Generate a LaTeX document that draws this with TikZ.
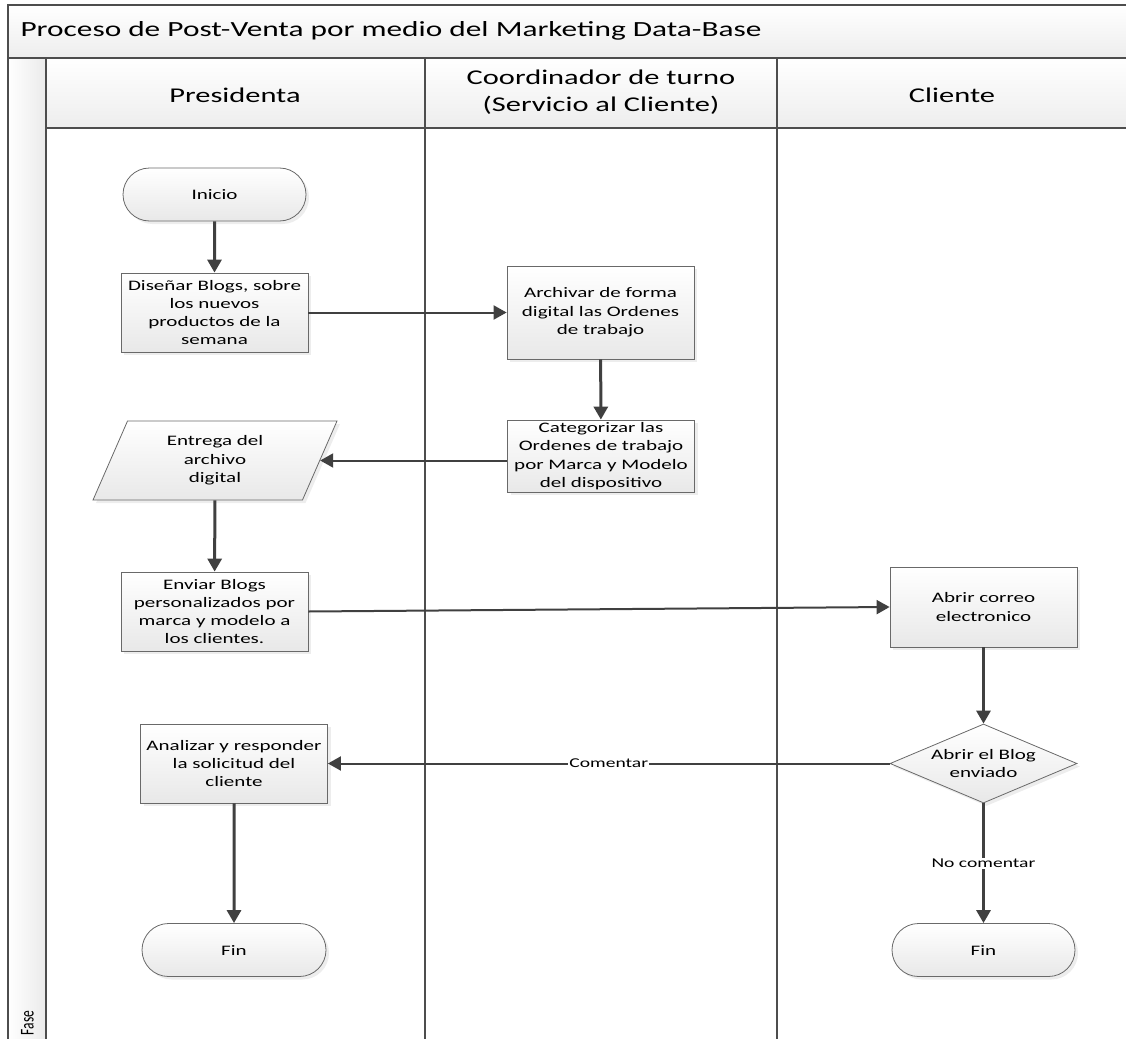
\documentclass[tikz,border=0pt]{standalone}
\usepackage{fontspec}
\setmainfont{Carlito}[FakeStretch=1.45]
\newfontfamily\fasefont{Carlito}
\usetikzlibrary{arrows.meta,shapes.geometric,shapes.misc,shadows}
\definecolor{lanegray}{RGB}{77,77,77}
\definecolor{boxgray}{RGB}{105,105,105}
\definecolor{flowgray}{RGB}{64,64,64}
\newcommand{\boxfont}{\fontsize{14.5}{18.3}\selectfont}
\newcommand{\headfont}{\fontsize{21}{27}\selectfont}
\newcommand{\lblfont}{\fontsize{13.5}{16}\selectfont}

\begin{document}
\begin{tikzpicture}[x=1pt,y=-1pt,
  proc/.style={draw=boxgray, line width=0.8pt, top color=white, bottom color=black!9,
    minimum width=187pt, minimum height=79pt, align=center, font=\boxfont, inner sep=2pt,
    drop shadow={shadow xshift=3pt, shadow yshift=-3pt, fill=black!14}},
  term/.style={proc, rounded rectangle, minimum height=53pt},
  datos/.style={proc, trapezium, trapezium left angle=57, trapezium right angle=123,
    trapezium stretches body, minimum width=244pt},
  decision/.style={proc, diamond, aspect=2.37, inner sep=0pt},
  flow/.style={draw=flowgray, line width=2pt, -{Triangle[length=13pt,width=14pt]}},
  vflow/.style={flow, line width=3pt},
  lbl/.style={fill=white, inner sep=1pt, font=\lblfont}]
\clip (0,0) rectangle (1126,1038);
% Pool frame and title
\draw[lanegray, line width=2pt, top color=white, bottom color=black!7] (8,5) rectangle (1140,58);
\node[anchor=west, font=\fontsize{21.6}{27}\selectfont] (titulo) at (17,31) {Proceso de Post-Venta por medio del Marketing Data-Base};
% Fase column
\draw[lanegray, line width=2.5pt, left color=white, right color=black!8] (8,58) rectangle (46,1050);
\node[rotate=90, font=\fasefont\fontsize{13.5}{15}\selectfont, inner sep=0pt] (fase) at (27.5,1023) {\scalebox{1}[1.45]{Fase}};
% Lane headers
\draw[lanegray, line width=2pt, top color=white, bottom color=black!7] (46,58) rectangle (1140,128);
\foreach \x in {425,777}
  \draw[lanegray, line width=2.5pt] (\x,58) -- (\x,1050);
\node[font=\headfont] (presidenta) at (235,95) {Presidenta};
\node[font=\headfont, align=center] (coordinador) at (601,92) {Coordinador de turno\\(Servicio al Cliente)};
\node[font=\headfont] (cliente) at (952,95) {Cliente};
% Presidenta lane
\node[term] (inicio) at (214.5,194.5) {Inicio};
\node[proc] (disenar) at (214.5,312.5) {Diseñar Blogs, sobre\\los nuevos\\productos de la\\semana};
\node[datos] (entrega) at (215,460.5) {Entrega del\\archivo\\digital};
\node[proc] (enviar) at (214.5,611.5) {Enviar Blogs\\personalizados por\\marca y modelo a\\los clientes.};
\node[proc] (analizar) at (234,763.5) {Analizar y responder\\la solicitud del\\cliente};
\node[term, minimum width=188pt] (finA) at (234,950) {Fin};
% Coordinador lane
\node[proc, minimum height=93pt] (archivar) at (600.5,312.5) {Archivar de forma\\digital las Ordenes\\de trabajo};
\node[proc, minimum height=72pt] (categorizar) at (601,456) {Categorizar las\\Ordenes de trabajo\\por Marca y Modelo\\del dispositivo};
% Cliente lane
\node[proc, minimum height=80pt] (correo) at (983.5,607) {Abrir correo\\electronico};
\node[decision] (blog) at (983.5,763.5) {Abrir el Blog\\enviado};
\node[term] (finB) at (983.5,950) {Fin};
% Flows
\draw[vflow] (inicio) -- (disenar);
\draw[flow] (disenar) -- (archivar);
\draw[vflow] (archivar) -- (categorizar);
\draw[flow] (categorizar.west |- entrega.east) -- (entrega.east);
\draw[vflow] (entrega) -- (enviar);
\draw[flow] (enviar.east) -- (correo.west);
\draw[vflow] (correo) -- (blog);
\draw[flow] (blog.west) -- node[lbl] {Comentar} (analizar.east);
\draw[vflow] (blog.south) -- node[lbl] {No comentar} (finB.north);
\draw[vflow] (analizar) -- (finA);
\end{tikzpicture}
\end{document}
